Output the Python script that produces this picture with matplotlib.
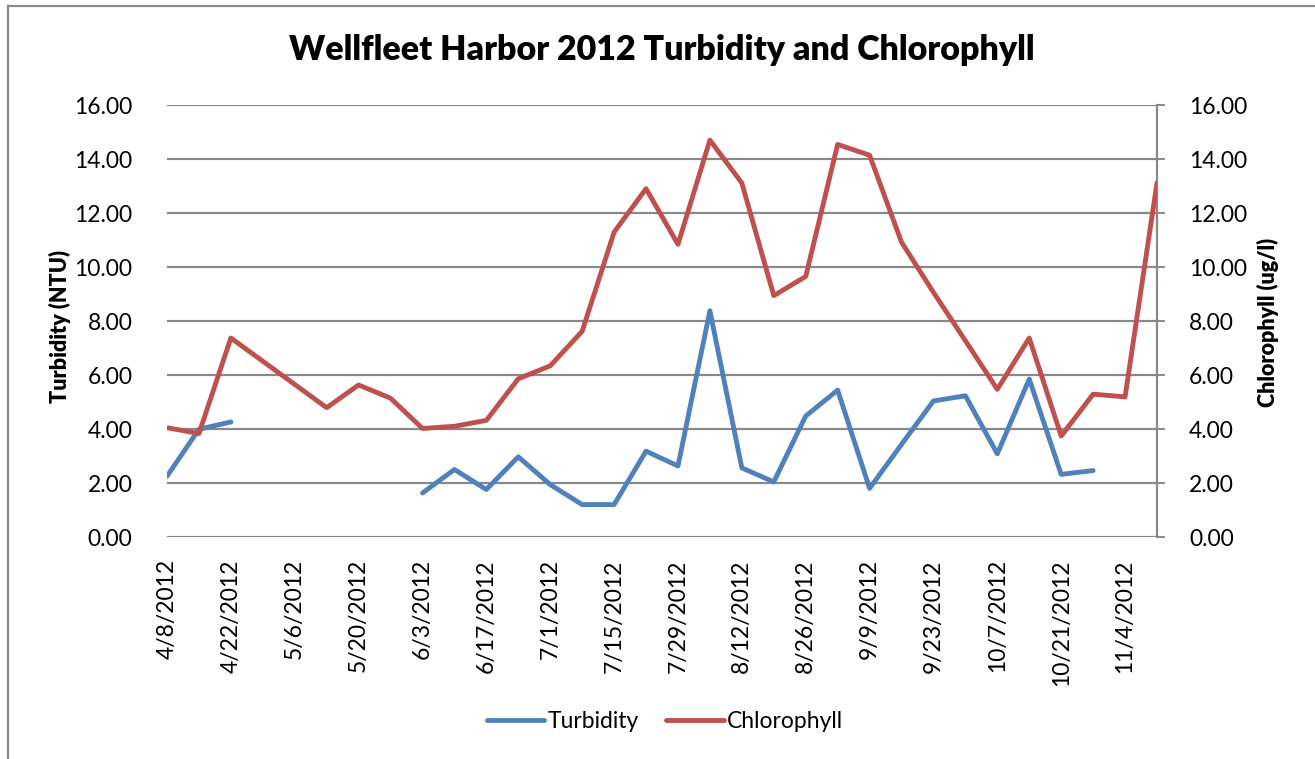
import matplotlib
matplotlib.use("Agg")
import matplotlib.pyplot as plt
import matplotlib.dates as mdates
from matplotlib.lines import Line2D
import numpy as np
import pandas as pd
import datetime as dt

# ---- data ----
dates = ['2012-04-08', '2012-04-15', '2012-04-22', '2012-05-13', '2012-05-20', '2012-05-27',
         '2012-06-03', '2012-06-10', '2012-06-17', '2012-06-24', '2012-07-01', '2012-07-08',
         '2012-07-15', '2012-07-22', '2012-07-29', '2012-08-05', '2012-08-12', '2012-08-19',
         '2012-08-26', '2012-09-02', '2012-09-09', '2012-09-16', '2012-09-23', '2012-09-30',
         '2012-10-07', '2012-10-14', '2012-10-21', '2012-10-28', '2012-11-04', '2012-11-11']
turbidity = [2.25, 3.99, 4.26, np.nan, np.nan, np.nan, 1.63, 2.50, 1.76, 2.97, 1.94, 1.20,
             1.20, 3.18, 2.63, 8.38, 2.56, 2.04, 4.48, 5.44, 1.80, 3.43, 5.04, 5.23,
             3.08, 5.85, 2.32, 2.46, np.nan, np.nan]
chlorophyll = [4.05, 3.83, 7.37, 4.79, 5.63, 5.14, 4.02, 4.10, 4.32, 5.86, 6.34, 7.62,
               11.29, 12.90, 10.84, 14.70, 13.11, 8.94, 9.65, 14.54, 14.14, 10.92, 9.06, 7.27,
               5.47, 7.37, 3.74, 5.29, 5.19, 13.11]
y_ticks = [0, 2, 4, 6, 8, 10, 12, 14, 16]
title = "Wellfleet Harbor 2012 Turbidity and Chlorophyll"
left_label = "Turbidity (NTU)"
right_label = "Chlorophyll (ug/l)"

x = pd.to_datetime(dates)

FONT = ['Lato', 'DejaVu Sans']
plt.rcParams['font.family'] = FONT

BLUE = '#4F81BD'
RED = '#C0504D'
GRID = '#898989'
W, H = 1315, 759
fig = plt.figure(figsize=(W / 100, H / 100), dpi=100)
fig.patch.set_facecolor('white')

L, R, T, B = 167, 1157, 105, 537
ax = fig.add_axes([L / W, 1 - B / H, (R - L) / W, (B - T) / H])
ax2 = ax.twinx()

lw = 3.5
ax.plot(x, turbidity, color=BLUE, lw=lw, solid_capstyle='round', solid_joinstyle='round', zorder=3)
ax2.plot(x, chlorophyll, color=RED, lw=lw, solid_capstyle='round', solid_joinstyle='round', zorder=3)

for a in (ax, ax2):
    a.set_ylim(0, 16)
    a.set_yticks(y_ticks)
    a.yaxis.set_major_formatter(matplotlib.ticker.FormatStrFormatter('%.2f'))
    for s in a.spines.values():
        s.set_visible(False)

ax.set_xlim(x[0], x[-1])
ax.grid(axis='y', color=GRID, lw=1.6)
ax.set_axisbelow(True)

ax.tick_params(axis='y', length=0, pad=25, labelsize=16.5)
ax2.tick_params(axis='y', length=6, width=1.4, color=GRID, pad=17, labelsize=16.5)
ax2.spines['right'].set_visible(True)
ax2.spines['right'].set_color(GRID)
ax2.spines['right'].set_linewidth(1.6)

tick_dates = pd.date_range(x[0], '2012-11-04', freq='14D')
ax.set_xticks(tick_dates)
ax.set_xticklabels([f"{d.month}/{d.day}/{d.year}" for d in tick_dates], rotation=90, fontsize=16.5)
ax.tick_params(axis='x', length=0, pad=16)

fig.text(60 / W, 1 - 327 / H, left_label, rotation=90, ha='center', va='center',
         fontsize=15.5, fontweight='heavy')
fig.text(1268 / W, 1 - 322 / H, right_label, rotation=90, ha='center', va='center',
         fontsize=15.5, fontweight='heavy')
fig.text(662 / W, 1 - 50 / H, title, ha='center', va='center', fontsize=24.5, fontweight='heavy')

handles = [Line2D([], [], color=BLUE, lw=lw, solid_capstyle='round'),
           Line2D([], [], color=RED, lw=lw, solid_capstyle='round')]
fig.legend(handles, ['Turbidity', 'Chlorophyll'], loc='center', bbox_to_anchor=(665 / W, 1 - 722 / H),
           ncol=2, frameon=False, fontsize=16.5, handlelength=2.5, handletextpad=0.15,
           columnspacing=1.2)

# chart border (top and left visible)
fig.add_artist(Line2D([7.5 / W, 7.5 / W], [0, 1 - 6 / H], color=GRID, lw=1.6, transform=fig.transFigure))
fig.add_artist(Line2D([7.5 / W, 1], [1 - 6 / H, 1 - 6 / H], color=GRID, lw=1.6, transform=fig.transFigure))

fig.savefig('out.png', dpi=100)
